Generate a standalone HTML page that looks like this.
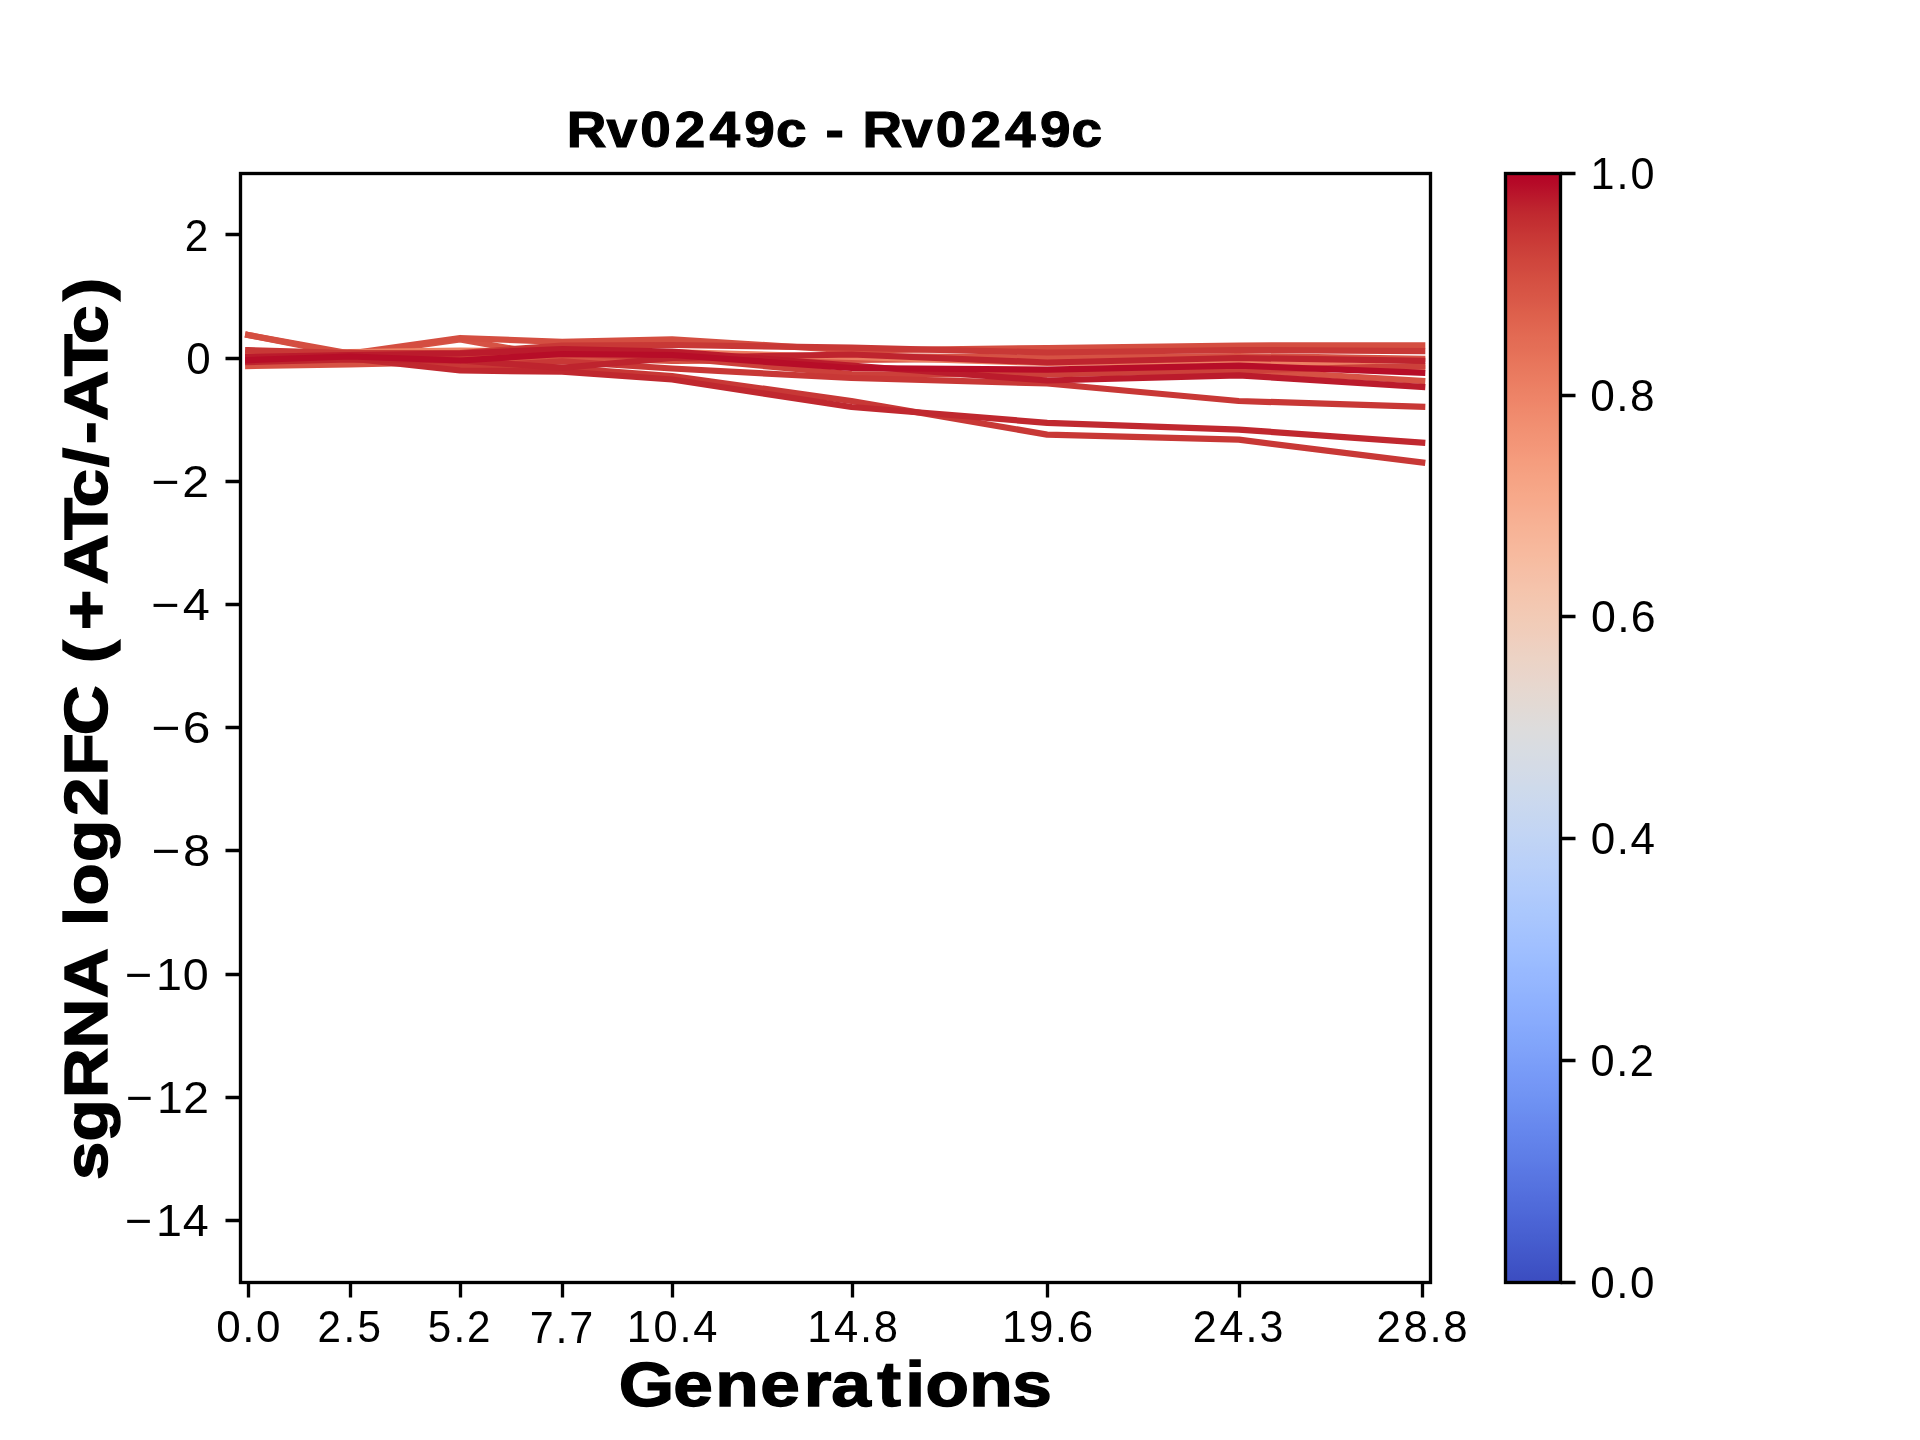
<!DOCTYPE html>
<html><head><meta charset="utf-8"><title>Rv0249c - Rv0249c</title><style>
html,body{margin:0;padding:0;background:#fff;width:1920px;height:1440px;overflow:hidden;}
svg{display:block;will-change:transform;}
text{font-family:"Liberation Sans",sans-serif;fill:#000;}
</style></head><body>
<svg width="1920" height="1440" viewBox="0 0 1920 1440">
<defs><clipPath id="ax"><rect x="240.0" y="172.8" width="1190.40" height="1108.80"/></clipPath>
<linearGradient id="cb" x1="0" y1="0" x2="0" y2="1"><stop offset="0.0000" stop-color="#b40426"/><stop offset="0.0078" stop-color="#b50927"/><stop offset="0.0156" stop-color="#b8122a"/><stop offset="0.0234" stop-color="#bb1b2c"/><stop offset="0.0312" stop-color="#be242e"/><stop offset="0.0391" stop-color="#c12b30"/><stop offset="0.0469" stop-color="#c43032"/><stop offset="0.0547" stop-color="#c73635"/><stop offset="0.0625" stop-color="#ca3b37"/><stop offset="0.0703" stop-color="#cc403a"/><stop offset="0.0781" stop-color="#cf453c"/><stop offset="0.0859" stop-color="#d1493f"/><stop offset="0.0938" stop-color="#d44e41"/><stop offset="0.1016" stop-color="#d65244"/><stop offset="0.1094" stop-color="#d85646"/><stop offset="0.1172" stop-color="#da5a49"/><stop offset="0.1250" stop-color="#dd5f4b"/><stop offset="0.1328" stop-color="#df634e"/><stop offset="0.1406" stop-color="#e16751"/><stop offset="0.1484" stop-color="#e36b54"/><stop offset="0.1562" stop-color="#e46e56"/><stop offset="0.1641" stop-color="#e67259"/><stop offset="0.1719" stop-color="#e8765c"/><stop offset="0.1797" stop-color="#e97a5f"/><stop offset="0.1875" stop-color="#eb7d62"/><stop offset="0.1953" stop-color="#ec8165"/><stop offset="0.2031" stop-color="#ee8468"/><stop offset="0.2109" stop-color="#ef886b"/><stop offset="0.2188" stop-color="#f08b6e"/><stop offset="0.2266" stop-color="#f18f71"/><stop offset="0.2344" stop-color="#f29274"/><stop offset="0.2422" stop-color="#f39577"/><stop offset="0.2500" stop-color="#f4987a"/><stop offset="0.2578" stop-color="#f59c7d"/><stop offset="0.2656" stop-color="#f59f80"/><stop offset="0.2734" stop-color="#f6a283"/><stop offset="0.2812" stop-color="#f6a586"/><stop offset="0.2891" stop-color="#f7a889"/><stop offset="0.2969" stop-color="#f7aa8c"/><stop offset="0.3047" stop-color="#f7ad90"/><stop offset="0.3125" stop-color="#f7b093"/><stop offset="0.3203" stop-color="#f7b396"/><stop offset="0.3281" stop-color="#f7b599"/><stop offset="0.3359" stop-color="#f7b89c"/><stop offset="0.3438" stop-color="#f7ba9f"/><stop offset="0.3516" stop-color="#f6bda2"/><stop offset="0.3594" stop-color="#f6bfa6"/><stop offset="0.3672" stop-color="#f5c1a9"/><stop offset="0.3750" stop-color="#f5c4ac"/><stop offset="0.3828" stop-color="#f4c6af"/><stop offset="0.3906" stop-color="#f3c8b2"/><stop offset="0.3984" stop-color="#f2cab5"/><stop offset="0.4062" stop-color="#f1ccb8"/><stop offset="0.4141" stop-color="#f0cdbb"/><stop offset="0.4219" stop-color="#efcfbf"/><stop offset="0.4297" stop-color="#edd1c2"/><stop offset="0.4375" stop-color="#ecd3c5"/><stop offset="0.4453" stop-color="#ead4c8"/><stop offset="0.4531" stop-color="#e9d5cb"/><stop offset="0.4609" stop-color="#e7d7ce"/><stop offset="0.4688" stop-color="#e5d8d1"/><stop offset="0.4766" stop-color="#e3d9d3"/><stop offset="0.4844" stop-color="#e1dad6"/><stop offset="0.4922" stop-color="#dfdbd9"/><stop offset="0.5000" stop-color="#dddcdc"/><stop offset="0.5078" stop-color="#dbdcde"/><stop offset="0.5156" stop-color="#d9dce1"/><stop offset="0.5234" stop-color="#d7dce3"/><stop offset="0.5312" stop-color="#d5dbe5"/><stop offset="0.5391" stop-color="#d3dbe7"/><stop offset="0.5469" stop-color="#d1dae9"/><stop offset="0.5547" stop-color="#cedaeb"/><stop offset="0.5625" stop-color="#ccd9ed"/><stop offset="0.5703" stop-color="#cad8ef"/><stop offset="0.5781" stop-color="#c7d7f0"/><stop offset="0.5859" stop-color="#c5d6f2"/><stop offset="0.5938" stop-color="#c3d5f4"/><stop offset="0.6016" stop-color="#c0d4f5"/><stop offset="0.6094" stop-color="#bed2f6"/><stop offset="0.6172" stop-color="#bbd1f8"/><stop offset="0.6250" stop-color="#b9d0f9"/><stop offset="0.6328" stop-color="#b6cefa"/><stop offset="0.6406" stop-color="#b3cdfb"/><stop offset="0.6484" stop-color="#b1cbfc"/><stop offset="0.6562" stop-color="#aec9fc"/><stop offset="0.6641" stop-color="#abc8fd"/><stop offset="0.6719" stop-color="#a9c6fd"/><stop offset="0.6797" stop-color="#a6c4fe"/><stop offset="0.6875" stop-color="#a3c2fe"/><stop offset="0.6953" stop-color="#a1c0ff"/><stop offset="0.7031" stop-color="#9ebeff"/><stop offset="0.7109" stop-color="#9bbcff"/><stop offset="0.7188" stop-color="#98b9ff"/><stop offset="0.7266" stop-color="#96b7ff"/><stop offset="0.7344" stop-color="#93b5fe"/><stop offset="0.7422" stop-color="#90b2fe"/><stop offset="0.7500" stop-color="#8db0fe"/><stop offset="0.7578" stop-color="#8badfd"/><stop offset="0.7656" stop-color="#88abfd"/><stop offset="0.7734" stop-color="#85a8fc"/><stop offset="0.7812" stop-color="#82a6fb"/><stop offset="0.7891" stop-color="#80a3fa"/><stop offset="0.7969" stop-color="#7da0f9"/><stop offset="0.8047" stop-color="#7a9df8"/><stop offset="0.8125" stop-color="#779af7"/><stop offset="0.8203" stop-color="#7597f6"/><stop offset="0.8281" stop-color="#7295f4"/><stop offset="0.8359" stop-color="#6f92f3"/><stop offset="0.8438" stop-color="#6c8ff1"/><stop offset="0.8516" stop-color="#6a8bef"/><stop offset="0.8594" stop-color="#6788ee"/><stop offset="0.8672" stop-color="#6485ec"/><stop offset="0.8750" stop-color="#6282ea"/><stop offset="0.8828" stop-color="#5f7fe8"/><stop offset="0.8906" stop-color="#5d7ce6"/><stop offset="0.8984" stop-color="#5a78e4"/><stop offset="0.9062" stop-color="#5875e1"/><stop offset="0.9141" stop-color="#5572df"/><stop offset="0.9219" stop-color="#536edd"/><stop offset="0.9297" stop-color="#506bda"/><stop offset="0.9375" stop-color="#4e68d8"/><stop offset="0.9453" stop-color="#4b64d5"/><stop offset="0.9531" stop-color="#4961d2"/><stop offset="0.9609" stop-color="#465ecf"/><stop offset="0.9688" stop-color="#445acc"/><stop offset="0.9766" stop-color="#4257c9"/><stop offset="0.9844" stop-color="#3f53c6"/><stop offset="0.9922" stop-color="#3d50c3"/><stop offset="1.0000" stop-color="#3b4cc0"/></linearGradient></defs>
<g clip-path="url(#ax)" fill="none" stroke-width="6.25" stroke-linecap="square" stroke-linejoin="round">
<polyline points="248.2,366.0 350.1,364.4 460.1,362.0 562.1,356.0 672.1,356.0 851.5,356.0 1047.2,357.5 1238.8,356.0 1422.2,358.8" stroke="#d65244"/>
<polyline points="248.2,335.0 350.1,355.0 460.1,339.5 562.1,357.5 672.1,361.0 851.5,360.0 1047.2,358.5 1238.8,370.0 1422.2,381.0" stroke="#d65244"/>
<polyline points="248.2,335.0 350.1,353.5 460.1,338.0 562.1,341.8 672.1,339.4 851.5,350.5 1047.2,348.0 1238.8,345.5 1422.2,345.3" stroke="#d44e41"/>
<polyline points="248.2,356.0 350.1,352.0 460.1,350.5 562.1,352.0 672.1,352.0 851.5,357.0 1047.2,363.0 1238.8,362.0 1422.2,367.5" stroke="#ec7f63"/>
<polyline points="248.2,353.5 350.1,352.5 460.1,356.0 562.1,354.0 672.1,357.5 851.5,374.0 1047.2,374.5 1238.8,370.5 1422.2,366.0" stroke="#cc403a"/>
<polyline points="248.2,350.2 350.1,353.0 460.1,353.0 562.1,345.5 672.1,345.0 851.5,347.7 1047.2,352.5 1238.8,350.0 1422.2,351.0" stroke="#c83836"/>
<polyline points="248.2,360.0 350.1,357.5 460.1,367.0 562.1,361.3 672.1,368.5 851.5,378.0 1047.2,383.5 1238.8,401.0 1422.2,406.8" stroke="#c83836"/>
<polyline points="248.2,359.0 350.1,358.0 460.1,367.0 562.1,367.8 672.1,376.0 851.5,401.0 1047.2,434.6 1238.8,439.7 1422.2,462.4" stroke="#c83836"/>
<polyline points="248.2,361.0 350.1,358.5 460.1,370.5 562.1,371.6 672.1,379.5 851.5,407.0 1047.2,422.8 1238.8,429.6 1422.2,442.6" stroke="#c0282f"/>
<polyline points="248.2,362.0 350.1,359.5 460.1,360.5 562.1,367.8 672.1,358.0 851.5,354.5 1047.2,362.5 1238.8,358.0 1422.2,360.8" stroke="#be242e"/>
<polyline points="248.2,357.0 350.1,355.0 460.1,353.5 562.1,349.0 672.1,351.5 851.5,365.5 1047.2,380.5 1238.8,375.3 1422.2,387.0" stroke="#bb1b2c"/>
<polyline points="248.2,360.2 350.1,356.5 460.1,360.5 562.1,354.0 672.1,355.0 851.5,368.0 1047.2,369.7 1238.8,365.7 1422.2,372.7" stroke="#b70d28"/>
</g>
<rect x="240.5" y="173.5" width="1190.00" height="1109.00" fill="none" stroke="#000" stroke-width="3.33" stroke-linejoin="miter"/>
<path d="M225.50 234.50H240.5 M225.50 358.50H240.5 M225.50 481.50H240.5 M225.50 604.50H240.5 M225.50 727.50H240.5 M225.50 850.50H240.5 M225.50 974.50H240.5 M225.50 1097.50H240.5 M225.50 1220.50H240.5 M248.50 1282.5V1297.50 M350.50 1282.5V1297.50 M460.50 1282.5V1297.50 M562.50 1282.5V1297.50 M672.50 1282.5V1297.50 M852.50 1282.5V1297.50 M1047.50 1282.5V1297.50 M1239.50 1282.5V1297.50 M1422.50 1282.5V1297.50 M1560.5 1282.50H1575.50 M1560.5 1060.50H1575.50 M1560.5 838.50H1575.50 M1560.5 616.50H1575.50 M1560.5 395.50H1575.50 M1560.5 173.50H1575.50" stroke="#000" stroke-width="3.33" fill="none"/>
<rect x="1505.5" y="173.5" width="55.00" height="1109.00" fill="url(#cb)" stroke="#000" stroke-width="3.33" stroke-linejoin="miter"/>
<text x="-0.06 36.54 67.72 99.75 131.75 163.91 193.18 203.18 238.99 248.99 273.11 309.72 340.89 372.92 404.92 437.08 466.35" y="0" transform="translate(566.91 146.50) scale(1.0822 1)" font-size="50.76" font-weight="bold" stroke="#000" stroke-width="1.10">Rv0249c - Rv0249c</text>
<text x="-1.81 46.58 83.77 123.75 162.49 186.92 227.77 252.61 270.59 309.41 347.70" y="0" transform="translate(620.89 1406.38) scale(1.1257 1)" font-size="63.23" font-weight="bold" stroke="#000" stroke-width="1.40">Generations</text>
<text x="-0.24 33.82 72.27 116.18 160.83 170.83 224.55 242.79 281.25 322.11 357.94 393.57 403.57 457.16 486.65 527.11 566.41 595.11 631.04 651.01 671.96 711.26 739.96 778.08" y="0" transform="translate(107.31 1179.73) rotate(-90) scale(1.1296 1)" font-size="61.14" font-weight="bold" stroke="#000" stroke-width="1.40">sgRNA log2FC (+ATc/-ATc)</text>
<text x="1.01 27.28 41.20" y="0" transform="translate(215.25 1341.57) scale(0.9891 1)" font-size="44.51">0.0</text>
<text x="1.02 28.61 43.24" y="0" transform="translate(316.45 1341.57) scale(0.9477 1)" font-size="44.51">2.5</text>
<text x="1.43 28.75 42.96" y="0" transform="translate(426.29 1341.57) scale(0.9477 1)" font-size="44.51">5.2</text>
<text x="1.19 27.60 41.71" y="0" transform="translate(528.58 1343.00) scale(0.9777 1)" font-size="44.15">7.7</text>
<text x="0.97 28.35 54.90 69.09" y="0" transform="translate(625.92 1341.57) scale(0.9758 1)" font-size="44.51">10.4</text>
<text x="0.93 28.21 54.69 68.82" y="0" transform="translate(806.42 1341.57) scale(0.9791 1)" font-size="44.51">14.8</text>
<text x="0.68 27.37 53.50 67.26" y="0" transform="translate(1001.42 1341.57) scale(0.9966 1)" font-size="44.51">19.6</text>
<text x="0.77 28.64 55.41 69.87" y="0" transform="translate(1191.95 1341.57) scale(0.9657 1)" font-size="44.51">24.3</text>
<text x="0.52 27.88 54.37 68.39" y="0" transform="translate(1375.95 1341.57) scale(0.9843 1)" font-size="44.51">28.8</text>
<text x="3.61 33.00 58.33" y="0" transform="translate(121.09 1236.00) scale(1.0569 1)" font-size="44.15">−14</text>
<text x="3.78 33.54 58.64" y="0" transform="translate(122.09 1113.00) scale(1.0439 1)" font-size="44.29">−12</text>
<text x="3.63 33.22 58.73" y="0" transform="translate(121.09 989.57) scale(1.0495 1)" font-size="44.51">−10</text>
<text x="2.81 31.23" y="0" transform="translate(148.59 865.57) scale(1.1036 1)" font-size="44.51">−8</text>
<text x="2.63 30.72" y="0" transform="translate(148.59 742.57) scale(1.1161 1)" font-size="44.51">−6</text>
<text x="2.92 31.34" y="0" transform="translate(148.09 620.00) scale(1.1034 1)" font-size="44.15">−4</text>
<text x="3.10 31.40" y="0" transform="translate(148.09 497.00) scale(1.0882 1)" font-size="44.29">−2</text>
<text x="1.04" y="0" transform="translate(185.25 373.57) scale(0.9868 1)" font-size="44.51">0</text>
<text x="0.97" y="0" transform="translate(183.95 251.00) scale(0.9559 1)" font-size="44.29">2</text>
<text x="1.01 27.28 41.20" y="0" transform="translate(1589.25 1297.57) scale(0.9891 1)" font-size="44.51">0.0</text>
<text x="1.23 27.82 41.50" y="0" transform="translate(1589.25 1075.57) scale(0.9734 1)" font-size="44.51">0.2</text>
<text x="1.01 27.28 41.20" y="0" transform="translate(1589.75 853.57) scale(0.9891 1)" font-size="44.51">0.4</text>
<text x="0.81 26.77 40.38" y="0" transform="translate(1590.25 631.57) scale(1.0046 1)" font-size="44.51">0.6</text>
<text x="0.95 27.12 40.94" y="0" transform="translate(1589.25 410.57) scale(0.9940 1)" font-size="44.51">0.8</text>
<text x="1.05 27.93 42.24" y="0" transform="translate(1589.42 188.57) scale(0.9702 1)" font-size="44.51">1.0</text>
</svg>
</body></html>
